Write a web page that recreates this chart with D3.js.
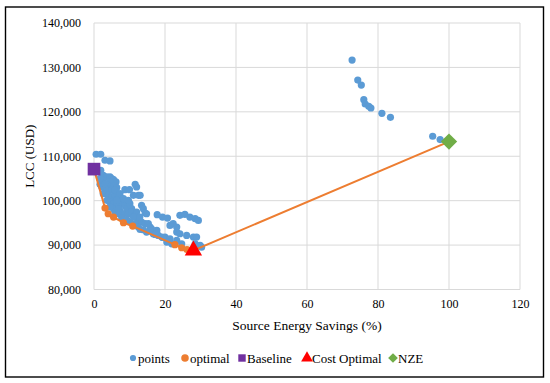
<!DOCTYPE html>
<html lang="en">
<head>
<meta charset="utf-8">
<script src="https://d3js.org/d3.v7.min.js"></script>
<style>
  body { margin: 0; background: #fff; }
</style>
</head>
<body>
<svg id="chart" width="550" height="383" font-family="'Liberation Serif', 'Times New Roman', 'DejaVu Serif', serif"></svg>
<script>
// source energy savings (%) and LCC (USD) of every simulated design
const pointsX = [0.6, 1.9, 3.1, 4.5, 1.9, 2.6, 3.6, 4.5, 5.0, 5.5, 6.2, 4.5, 4.0, 5.5, 1.7, 2.2, 3.1, 3.6, 5.0, 6.4,
  8.7, 10.0, 11.6, 12.0, 11.1, 12.5, 13.0, 2.6, 4.0, 5.0, 5.9, 6.9, 7.3, 3.6, 4.5, 5.5, 6.4, 7.8, 8.7, 9.2,
  10.1, 10.6, 7.3, 8.3, 9.7, 10.6, 11.6, 13.4, 13.9, 14.4, 14.8, 12.5, 13.4, 14.4, 15.3, 15.8, 16.2, 17.7, 17.8, 19.3,
  20.7, 22.3, 24.2, 25.6, 27.0, 28.5, 29.4, 19.1, 20.0, 21.4, 23.3, 24.2, 26.1, 28.0, 28.9, 20.5, 21.9, 23.3, 24.7, 28.5,
  29.9, 30.3, 5.9, 6.9, 7.8, 9.2, 10.1, 11.6, 12.5, 13.9, 14.8, 16.7, 18.1, 2.6, 1.7, 3.1, 5.9, 7.3, 8.3, 9.7,
  6.4, 5.5, 6.9, 4.5, 12.0, 11.1, 12.9, 21.4, 23.3, 13.0, 15.8, 17.2, 19.4,
  72.7, 74.3, 75.3, 76.0, 76.4, 77.4, 78.0, 81.1, 83.5, 95.4, 97.5];
const pointsY = [110450, 110450, 109100, 108950, 106840, 105710, 105340, 105340, 104960, 104740, 104210, 104210, 103460, 103230, 103680, 103080, 102700, 102330, 102330, 102930,
  102480, 102480, 103680, 103080, 101200, 101200, 101200, 101580, 101200, 100820, 101200, 100820, 100070, 100070, 99700, 99320, 98940, 99320, 98940, 98190,
  99320, 98190, 97820, 97060, 97060, 97440, 96690, 98940, 98190, 97210, 97060, 95560, 95180, 94810, 94810, 94060, 93680, 93300, 96840, 96310,
  96090, 94810, 96690, 96910, 96310, 95940, 95560, 91800, 91800, 91420, 92930, 92550, 92180, 91800, 91800, 90670, 90290, 91050, 90290, 90290,
  89920, 89540, 97440, 97060, 96160, 95710, 95180, 94810, 94060, 93450, 92930, 92550, 92180, 104590, 104960, 103840, 102330, 101580, 100450, 100070,
  100070, 98190, 98190, 98570, 97440, 96310, 96310, 94430, 94060, 93510, 93130, 92390, 91710,
  131650, 127150, 126030, 122730, 121760, 121240, 120860, 119660, 118760, 114500, 113750];

// optimal (Pareto) designs
const optimalX = [3.1, 4.0, 5.5, 8.3, 10.9, 22.8, 24.7, 26.2];
const optimalY = [98340, 97060, 96310, 95030, 94280, 90100, 89400, 89000];

const baseline = [0, 107100];
const costOptimal = [28.0, 88800];
const nze = [100, 113300];

const xTicks = [0, 20, 40, 60, 80, 100, 120];
const yTicks = [80000, 90000, 100000, 110000, 120000, 130000, 140000];

const legendItems = ["points", "optimal", "Baseline", "Cost Optimal", "NZE"];

const colors = {
  points: "#5b9bd5",
  optimal: "#ed7d31",
  Baseline: "#7030a0",
  "Cost Optimal": "#ff0000",
  NZE: "#70ad47"
};

const serif = "'Liberation Serif', 'Times New Roman', 'DejaVu Serif', serif";

const svg = d3.select("#chart");

svg.append("rect")
  .attr("width", 550).attr("height", 383)
  .attr("fill", "#fff");

svg.append("rect")
  .attr("x", 5.5).attr("y", 7)
  .attr("width", 538).attr("height", 370)
  .attr("fill", "none")
  .attr("stroke", "#000")
  .attr("stroke-width", 1.4);

const x = d3.scaleLinear().domain([0, 120]).range([94, 520]);
const y = d3.scaleLinear().domain([80000, 140000]).range([289.5, 23]);

// gridlines
svg.append("g").selectAll("line")
  .data(xTicks)
  .join("line")
  .attr("x1", d => x(d)).attr("x2", d => x(d))
  .attr("y1", y(140000)).attr("y2", y(80000))
  .attr("stroke", "#d9d9d9").attr("stroke-width", 1);

svg.append("g").selectAll("line")
  .data(yTicks)
  .join("line")
  .attr("x1", x(0)).attr("x2", x(120))
  .attr("y1", d => y(d)).attr("y2", d => y(d))
  .attr("stroke", "#d9d9d9").attr("stroke-width", 1);

// axes (labels only, Excel style)
const fmt = d3.format(",");

const xAxis = svg.append("g")
  .attr("transform", `translate(0,${y(80000)})`)
  .call(d3.axisBottom(x).tickValues(xTicks).tickSize(0).tickPadding(10).tickFormat(d => d));
xAxis.select(".domain").remove();
xAxis.attr("font-family", serif).attr("font-size", 12);
xAxis.selectAll("text").style("font-family", serif).style("font-size", "12px");

const yAxis = svg.append("g")
  .attr("transform", `translate(${x(0)},0)`)
  .call(d3.axisLeft(y).tickValues(yTicks).tickSize(0).tickPadding(13).tickFormat(fmt));
yAxis.select(".domain").remove();
yAxis.attr("font-family", serif).attr("font-size", 12);
yAxis.selectAll("text").style("font-family", serif).style("font-size", "12px");

svg.append("text")
  .attr("x", (x(0) + x(120)) / 2)
  .attr("y", 330)
  .attr("text-anchor", "middle")
  .style("font-family", serif)
  .style("font-size", "13.5px")
  .text("Source Energy Savings (%)");

svg.append("text")
  .attr("transform", `translate(34,${(y(80000) + y(140000)) / 2}) rotate(-90)`)
  .attr("text-anchor", "middle")
  .style("font-family", serif)
  .style("font-size", "13px")
  .text("LCC (USD)");

// marks
const pts = pointsX.map((d, i) => [d, pointsY[i]]);
const opt = optimalX.map((d, i) => [d, optimalY[i]]);

svg.append("g").selectAll("circle")
  .data(pts)
  .join("circle")
  .attr("cx", d => x(d[0]))
  .attr("cy", d => y(d[1]))
  .attr("r", 3.6)
  .attr("fill", colors.points);

const line = d3.line().x(d => x(d[0])).y(d => y(d[1]));
svg.append("path")
  .datum([baseline, ...opt, costOptimal, nze])
  .attr("d", line)
  .attr("fill", "none")
  .attr("stroke", colors.optimal)
  .attr("stroke-width", 2);

svg.append("g").selectAll("circle")
  .data(opt)
  .join("circle")
  .attr("cx", d => x(d[0]))
  .attr("cy", d => y(d[1]))
  .attr("r", 3.6)
  .attr("fill", colors.optimal);

const sym = (type, size) => d3.symbol().type(type).size(size)();

svg.append("path")
  .attr("d", sym(d3.symbolSquare, 160))
  .attr("transform", `translate(${x(baseline[0])},${y(baseline[1])})`)
  .attr("fill", colors.Baseline);

svg.append("path")
  .attr("d", sym(d3.symbolTriangle, 130))
  .attr("transform", `translate(${x(costOptimal[0])},${y(costOptimal[1])})`)
  .attr("fill", colors["Cost Optimal"]);

svg.append("path")
  .attr("d", sym(d3.symbolDiamond2, 170))
  .attr("transform", `translate(${x(nze[0])},${y(nze[1])})`)
  .attr("fill", colors.NZE);

// legend
const legend = svg.append("g").attr("transform", "translate(0,359)");
const markerFor = {
  points: () => d3.symbol().type(d3.symbolCircle).size(30)(),
  optimal: () => d3.symbol().type(d3.symbolCircle).size(45)(),
  Baseline: () => d3.symbol().type(d3.symbolSquare).size(55)(),
  "Cost Optimal": () => d3.symbol().type(d3.symbolTriangle).size(60)(),
  NZE: () => d3.symbol().type(d3.symbolDiamond2).size(60)()
};
const markerX = [133, 185, 242, 307, 393];
legendItems.forEach((name, i) => {
  legend.append("path")
    .attr("d", markerFor[name]())
    .attr("transform", `translate(${markerX[i]},-1)`)
    .attr("fill", colors[name]);
  legend.append("text")
    .attr("x", markerX[i] + 5)
    .attr("y", 4)
    .style("font-family", serif)
    .style("font-size", "13px")
    .text(name);
});
</script>
</body>
</html>
